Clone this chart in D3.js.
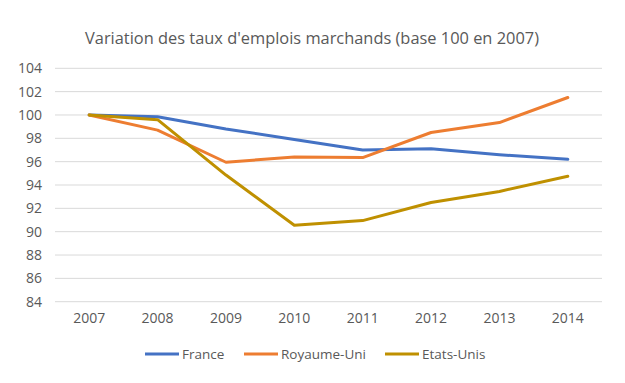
<!DOCTYPE html>
<html><head><meta charset="utf-8">
<script src="https://cdn.jsdelivr.net/npm/d3@7"></script>
<style>body{margin:0;background:#fff}svg{display:block}text{font-family:"Open Sans",sans-serif;fill:#595959}</style>
</head><body>
<script>
const years = ["2007","2008","2009","2010","2011","2012","2013","2014"];
const france = [100, 99.85, 98.8, 97.9, 97.0, 97.1, 96.6, 96.2];
const royaumeUni = [100, 98.7, 95.95, 96.4, 96.35, 98.5, 99.35, 101.5];
const etatsUnis = [100, 99.6, 94.85, 90.55, 90.95, 92.5, 93.45, 94.75];
const yTicks = [84, 86, 88, 90, 92, 94, 96, 98, 100, 102, 104];
const seriesNames = ["France", "Royaume-Uni", "Etats-Unis"];
const title = "Variation des taux d'emplois marchands (base 100 en 2007)";

const series = [
  {name: seriesNames[0], values: france, color: "#4472C4"},
  {name: seriesNames[1], values: royaumeUni, color: "#ED7D31"},
  {name: seriesNames[2], values: etatsUnis, color: "#BF9000"}
];

const W = 625, H = 383;
const svg = d3.select("body").append("svg").attr("width", W).attr("height", H);

const x = d3.scaleBand().domain(years).range([55, 602]);
const y = d3.scaleLinear().domain([84, 104]).range([301.7, 68.3]);

svg.append("text").attr("x", 312).attr("y", 44).attr("text-anchor", "middle")
  .style("font-size", "16.4px").text(title);

// gridlines
svg.append("g").selectAll("line").data(yTicks).join("line")
  .attr("x1", 55).attr("x2", 602)
  .attr("y1", d => y(d)).attr("y2", d => y(d))
  .attr("stroke", "#d9d9d9").attr("stroke-width", 1);

// y axis labels
const ya = svg.append("g").attr("transform", "translate(48,0)")
  .call(d3.axisLeft(y).tickValues(yTicks).tickSize(0).tickPadding(6));
ya.select(".domain").remove();
ya.selectAll("text").style("font-size", "14px").style("fill", "#595959").style("font-family", "Open Sans");

// x axis labels
const xa = svg.append("g").attr("transform", "translate(0,310)")
  .call(d3.axisBottom(x).tickSize(0).tickPadding(3));
xa.select(".domain").remove();
xa.selectAll("text").style("font-size", "14px").style("fill", "#595959").style("font-family", "Open Sans");

const line = d3.line().x((d, i) => x(years[i]) + x.bandwidth() / 2).y(d => y(d));
svg.append("g").selectAll("path").data(series).join("path")
  .attr("d", d => line(d.values)).attr("fill", "none")
  .attr("stroke", d => d.color).attr("stroke-width", 3)
  .attr("stroke-linejoin", "round").attr("stroke-linecap", "round");

// legend
const legX = [145, 244, 385];
const lg = svg.append("g").selectAll("g").data(series).join("g")
  .attr("transform", (d, i) => `translate(${legX[i]},354)`);
lg.append("line").attr("x1", 0).attr("x2", 34).attr("stroke", d => d.color).attr("stroke-width", 3);
lg.append("text").attr("x", 37).attr("y", 5).style("font-size", "13.5px").text(d => d.name);
</script>
</body></html>
